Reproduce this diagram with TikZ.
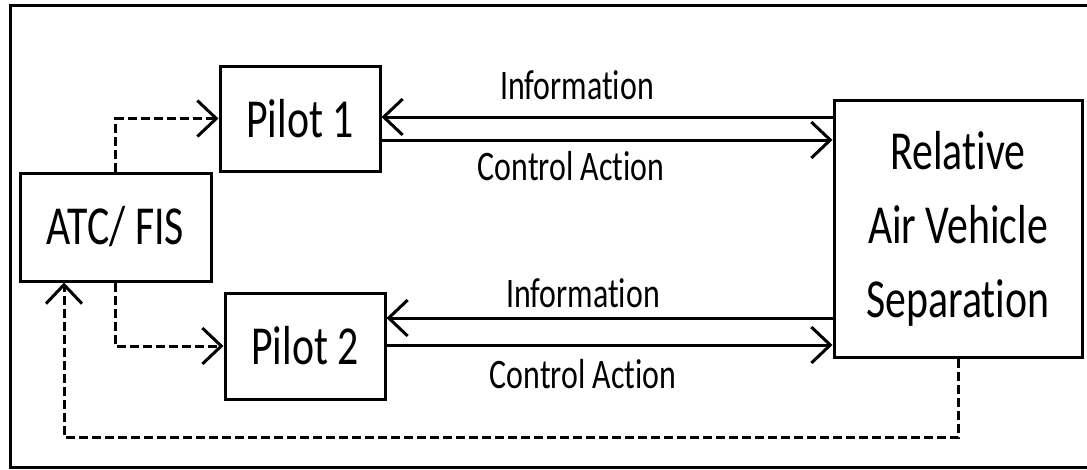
\documentclass[tikz,border=0pt]{standalone}
\usepackage{fontspec}
\setmainfont[FakeStretch=0.76,Ligatures={NoCommon}]{Carlito}
\usetikzlibrary{arrows.meta}
\begin{document}
\begin{tikzpicture}[x=1pt,y=-1pt,
  box/.style={draw,line width=3pt,inner sep=0pt,align=center,
    font=\fontsize{55}{74}\selectfont},
  lbl/.style={inner sep=0pt,anchor=base,font=\fontsize{42}{50}\selectfont},
  tip/.style={-{Straight Barb[length=19pt,width=36pt]}},
  arr/.style={line width=3pt,tip},
  dasharr/.style={line width=3pt,dash pattern=on 9pt off 4pt,tip}]
\useasboundingbox (0,0) rectangle (1087,469);
\draw[line width=3pt] (10,5) rectangle (1100,467);
\node[box,minimum width=191pt,minimum height=108pt] (atc) at (115.5,227) {ATC/ FIS};
\node[box,minimum width=160pt,minimum height=105pt] (p1) at (300,118.5) {Pilot 1};
\node[box,minimum width=160pt,minimum height=106pt] (p2) at (305,346) {Pilot 2};
\node[box,minimum width=248pt,minimum height=257pt] (rav) at (958,228.5) {Relative\\Air Vehicle\\Separation};
% information / control lines
\draw[arr] (rav.west |- 0,117) -- (p1.east |- 0,117);
\draw[arr] (p1.east |- 0,140) -- (rav.west |- 0,140);
\draw[arr] (rav.west |- 0,318) -- (p2.east |- 0,318);
\draw[arr] (p2.east |- 0,345) -- (rav.west |- 0,345);
\node[lbl] (i1) at (577,99) {Information};
\node[lbl] (c1) at (571,180) {Control Action};
\node[lbl] (i2) at (583,307) {Information};
\node[lbl] (c2) at (583,388) {Control Action};
% dashed
\draw[dasharr] (atc.north) |- (p1.west);
\draw[dasharr] (atc.south) |- (p2.west);
\coordinate (fb) at (64,437);
\draw[dasharr] (rav.south) |- (fb) -- (fb |- atc.south);
\end{tikzpicture}
\end{document}
